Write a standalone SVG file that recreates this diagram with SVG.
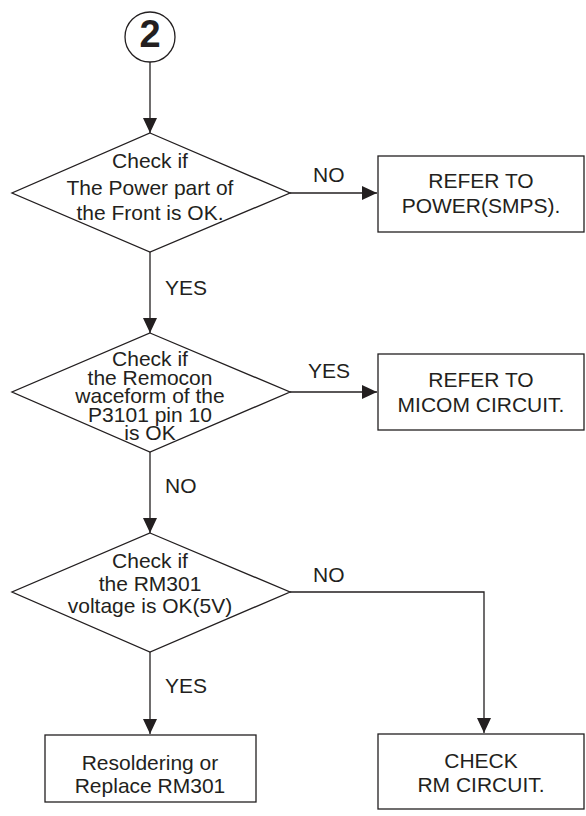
<svg xmlns="http://www.w3.org/2000/svg" width="586" height="816" viewBox="0 0 586 816">
<style>
.shape{fill:#fff;stroke:#231f20;stroke-width:1.3}
.line{fill:none;stroke:#231f20;stroke-width:1.3}
text{font-family:"Liberation Sans",Arial,sans-serif;font-size:21px;fill:#231f20}
.c{text-anchor:middle}
</style>
<defs>
<marker id="arr" markerUnits="userSpaceOnUse" markerWidth="15" markerHeight="14" refX="15" refY="7" orient="auto">
<path d="M0,0 L15,7 L0,14 z" fill="#231f20"/>
</marker>
</defs>
<rect width="586" height="816" fill="#fff"/>
<g id="connectors">
<line class="line" x1="150" y1="62" x2="150" y2="133" marker-end="url(#arr)"/>
<line class="line" x1="290" y1="193" x2="377" y2="193" marker-end="url(#arr)"/>
<text x="313" y="182">NO</text>
<line class="line" x1="150" y1="252" x2="150" y2="333" marker-end="url(#arr)"/>
<text x="165" y="295">YES</text>
<line class="line" x1="290" y1="392" x2="377" y2="392" marker-end="url(#arr)"/>
<text x="308" y="378">YES</text>
<line class="line" x1="150" y1="452" x2="150" y2="533" marker-end="url(#arr)"/>
<text x="165" y="493">NO</text>
<polyline class="line" points="290,592 484,592 484,733" marker-end="url(#arr)"/>
<text x="313" y="582">NO</text>
<line class="line" x1="150" y1="652" x2="150" y2="734" marker-end="url(#arr)"/>
<text x="165" y="693">YES</text>
</g>
<g id="start">
<circle class="shape" cx="150" cy="37" r="25"/>
<text class="c" x="150" y="47" style="font-size:38px;font-weight:bold">2</text>
</g>
<g id="d1">
<polygon class="shape" points="150,133 290,193 150,252 12,193"/>
<text class="c" x="150" y="168">Check if</text>
<text class="c" x="150" y="195">The Power part of</text>
<text class="c" x="150" y="220">the Front is OK.</text>
</g>
<g id="b1">
<rect class="shape" x="378" y="156" width="206" height="76"/>
<text class="c" x="481" y="188">REFER TO</text>
<text class="c" x="481" y="213">POWER(SMPS).</text>
</g>
<g id="d2">
<polygon class="shape" points="150,333 290,392 150,452 12,392"/>
<text class="c" x="150" y="366">Check if</text>
<text class="c" x="150" y="385">the Remocon</text>
<text class="c" x="150" y="403">waceform of the</text>
<text class="c" x="150" y="422">P3101 pin 10</text>
<text class="c" x="150" y="440">is OK</text>
</g>
<g id="b2">
<rect class="shape" x="378" y="354" width="206" height="76"/>
<text class="c" x="481" y="387">REFER TO</text>
<text class="c" x="481" y="412">MICOM CIRCUIT.</text>
</g>
<g id="d3">
<polygon class="shape" points="150,533 290,592 150,652 12,592"/>
<text class="c" x="150" y="568">Check if</text>
<text class="c" x="150" y="591">the RM301</text>
<text class="c" x="150" y="613">voltage is OK(5V)</text>
</g>
<g id="b3">
<rect class="shape" x="45" y="735" width="211" height="67"/>
<text class="c" x="150" y="770">Resoldering or</text>
<text class="c" x="150" y="793">Replace RM301</text>
</g>
<g id="b4">
<rect class="shape" x="378" y="734" width="206" height="75"/>
<text class="c" x="481" y="768">CHECK</text>
<text class="c" x="481" y="792">RM CIRCUIT.</text>
</g>
</svg>
